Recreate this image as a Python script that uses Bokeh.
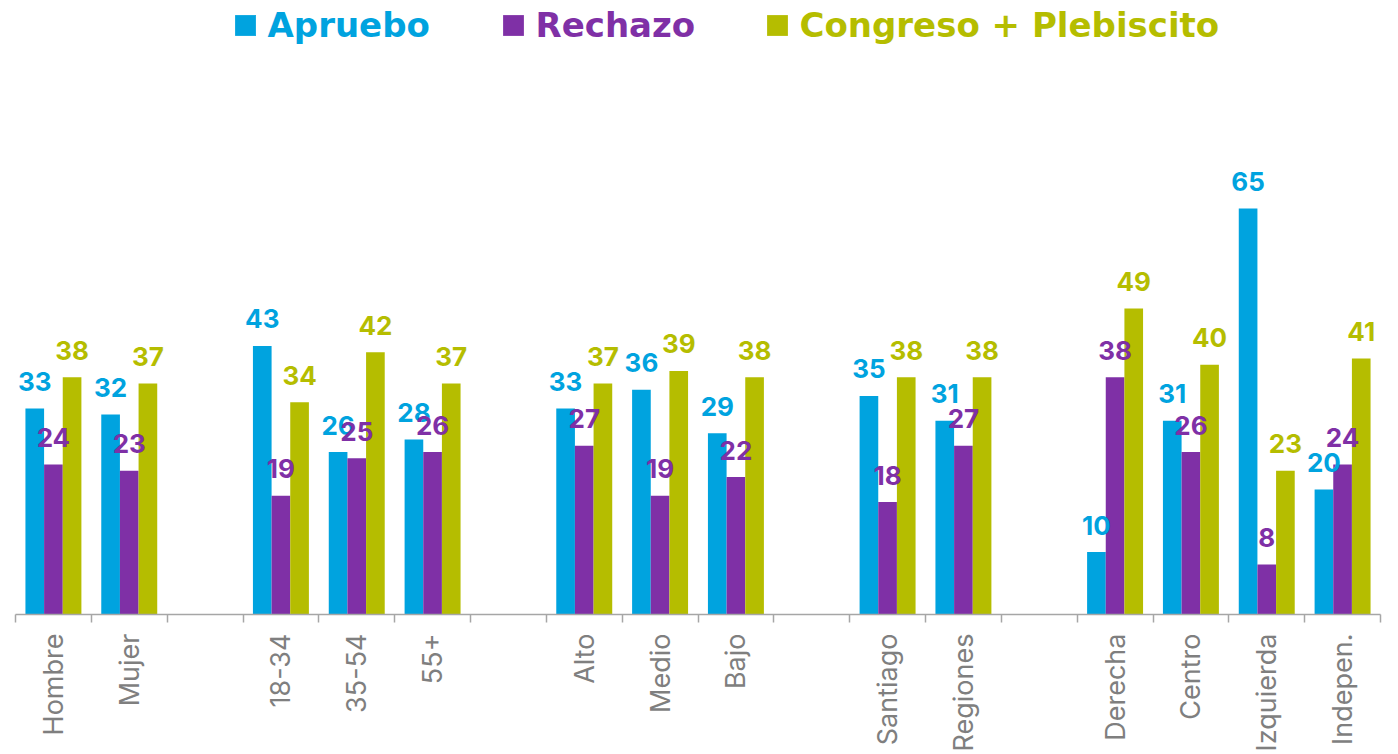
import math
from bokeh.plotting import figure
from bokeh.models import Range1d, FixedTicker, Legend, LegendItem, ColumnDataSource
from bokeh.embed import file_html
from bokeh.resources import INLINE
from bokeh.core.properties import value

# ---- data ----
slots = ["Hombre", "Mujer", "", "18-34", "35-54", "55+", "", "Alto", "Medio", "Bajo", "",
         "Santiago", "Regiones", "", "Derecha", "Centro", "Izquierda", "Indepen."]
apruebo = [33, 32, 43, 26, 28, 33, 36, 29, 35, 31, 10, 31, 65, 20]
rechazo = [24, 23, 19, 25, 26, 27, 19, 22, 18, 27, 38, 26, 8, 24]
congreso = [38, 37, 34, 42, 37, 37, 39, 38, 38, 38, 49, 40, 23, 41]
series_names = ["Apruebo", "Rechazo", "Congreso + Plebiscito"]
colors = ["#00A3DF", "#7F30A6", "#B5BD00"]

cats = [s for s in slots if s]
xs = [i for i, s in enumerate(slots) if s]

W, H = 1390, 754
FRAME_BOTTOM = 615
Y_END = 98.3

p = figure(width=W, height=H, x_range=Range1d(-0.5, len(slots) - 0.5),
           y_range=Range1d(0, Y_END), output_backend="svg", toolbar_location=None,
           y_axis_location=None, min_border_left=15, min_border_right=10,
           min_border_top=0, min_border_bottom=0)
p.outline_line_color = None
p.xgrid.visible = False
p.ygrid.visible = False
p.background_fill_color = "white"
p.border_fill_color = "white"

bw = 0.246
offsets = [-bw, 0, bw]
renderers = []
for vals, col, off in zip([apruebo, rechazo, congreso], colors, offsets):
    src = ColumnDataSource(dict(x=[x + off for x in xs], top=vals,
                                label=[str(v) for v in vals]))
    r = p.vbar(x="x", top="top", width=bw, source=src, fill_color=col, line_color=None)
    renderers.append((r, src, col))

for r, src, col in renderers:
    p.text(x="x", y="top", text="label", source=src, text_align="center",
           text_baseline="alphabetic", y_offset=-27, text_font=value("Inter"),
           text_font_style="bold", text_font_size="26px", text_color=col)

legend_x = [216.5, 484.5, 748.5]
for (r, src, col), name, lx in zip(renderers, series_names, legend_x):
    leg = Legend(items=[LegendItem(label=name, renderers=[r])],
                 location=(lx, FRAME_BOTTOM - 46), orientation="horizontal",
                 label_text_color=col, label_text_font="DejaVu Sans",
                 label_text_font_style="bold", label_text_font_size="34px",
                 glyph_width=26, glyph_height=26, label_standoff=10,
                 padding=0, margin=0, spacing=0, border_line_color=None,
                 background_fill_alpha=0)
    p.add_layout(leg)

ax = p.xaxis[0]
ax.ticker = FixedTicker(ticks=xs, minor_ticks=[i - 0.5 for i in range(len(slots) + 1)])
ax.major_label_overrides = {x: c for x, c in zip(xs, cats)}
ax.axis_line_color = "#A6A6A6"
ax.axis_line_width = 1.5
ax.major_tick_out = 0
ax.major_tick_in = 0
ax.minor_tick_out = 8
ax.minor_tick_in = 0
ax.minor_tick_line_color = "#A6A6A6"
ax.minor_tick_line_width = 1.5
ax.major_label_orientation = math.pi / 2
ax.major_label_text_font = "Inter"
ax.major_label_text_font_size = "27px"
ax.major_label_text_color = "#7F7F7F"
ax.major_label_standoff = 11

open("out.html", "w").write(file_html(p, INLINE))
